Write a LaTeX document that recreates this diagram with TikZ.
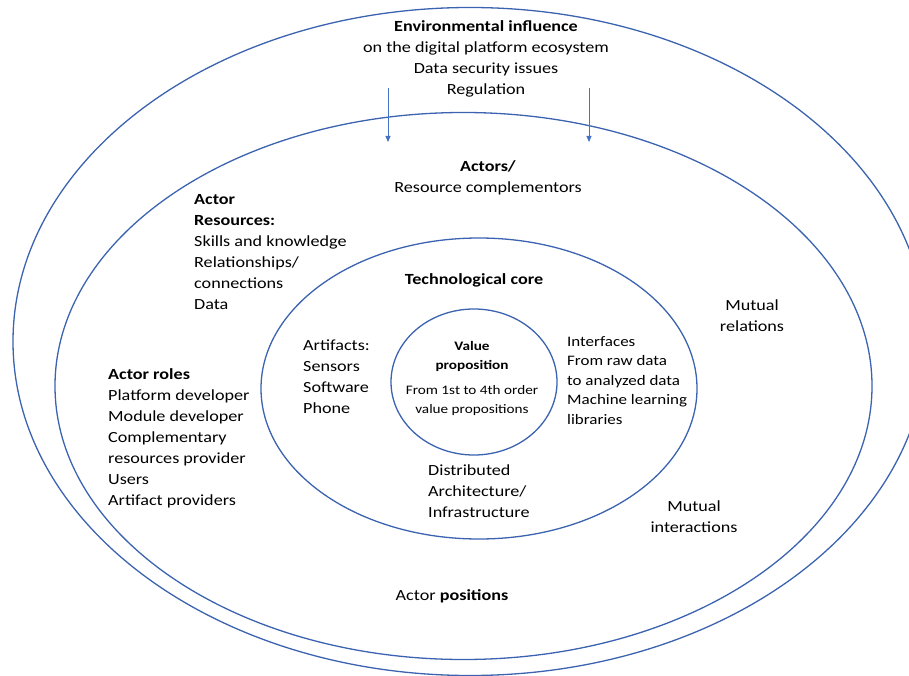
\documentclass[tikz,border=0pt]{standalone}
\usepackage{fontspec}
\setmainfont{Carlito}[FakeStretch=1.17]
\usetikzlibrary{arrows.meta}
\definecolor{ringc}{HTML}{3B63B0}
\definecolor{arrc}{HTML}{4472C4}
\begin{document}
\begin{tikzpicture}[x=1pt,y=-1pt,
  ringline/.style={draw=ringc,line width=1.3pt},
  txt/.style={inner sep=0pt,font=\fontsize{15.5}{21}\selectfont},
  arrowline/.style={draw=arrc,line width=0.9pt,-{Triangle[length=6pt,width=5pt]}}]
\useasboundingbox (0,0) rectangle (909,676);
\begin{scope}
\clip (0,0) rectangle (909,676);
\draw[ringline] (470,341.5) ellipse [x radius=457, y radius=334];
\draw[ringline] (463.5,386) ellipse [x radius=408.5, y radius=273.5];
\draw[ringline] (479,388.5) ellipse [x radius=218, y radius=150.5];
\draw[ringline] (474,382) ellipse [x radius=83, y radius=73];
\end{scope}
% arrows
\coordinate (a1s) at (388,88);
\coordinate (a1e) at (388,142);
\coordinate (a2s) at (589,88);
\coordinate (a2e) at (589,142);
\draw[arrowline] (a1s) -- (a1e);
\draw[arrowline] (a2s) -- (a2e);
% texts
\node[txt,anchor=north,align=center] (env) at (486,20.5)
  {\textbf{Environmental influence}\\on the digital platform ecosystem\\Data security issues\\Regulation};
\node[txt,anchor=north,align=center] (actors) at (488,160.5)
  {\textbf{Actors/}\\Resource complementors};
\node[txt,anchor=north west,align=left] (res) at (194,194.5)
  {\textbf{Actor}\\\textbf{Resources:}\\Skills and knowledge\\Relationships/\\connections\\Data};
\node[txt,anchor=base] (tech) at (474,284) {\textbf{Technological core}};
\node[txt,anchor=north,align=center] (mrel) at (752,299.5) {Mutual\\relations};
\node[txt,anchor=north west,align=left] (artif) at (303,339.5)
  {Artifacts:\\Sensors\\Software\\Phone};
\node[txt,anchor=north west,align=left,font=\fontsize{14.5}{19.5}\selectfont] (intf) at (567,336)
  {Interfaces\\From raw data\\to analyzed data\\Machine learning\\libraries};
\node[txt,anchor=north west,align=left] (roles) at (108,368.5)
  {\textbf{Actor roles}\\Platform developer\\Module developer\\Complementary\\resources provider\\Users\\Artifact providers};
\node[txt,anchor=north west,align=left] (distr) at (428,464.5)
  {Distributed\\Architecture/\\Infrastructure};
\node[txt,anchor=north,align=center] (mint) at (694,500.5) {Mutual\\interactions};
\node[txt,anchor=base] (pos) at (452,600) {Actor \textbf{positions}};
\node[txt,anchor=north,align=center,font=\fontsize{13}{18.8}\selectfont] (value) at (472,341)
  {\textbf{Value}\\\textbf{proposition}\\[7pt]From 1st to 4th order\\value propositions};
\end{tikzpicture}
\end{document}
